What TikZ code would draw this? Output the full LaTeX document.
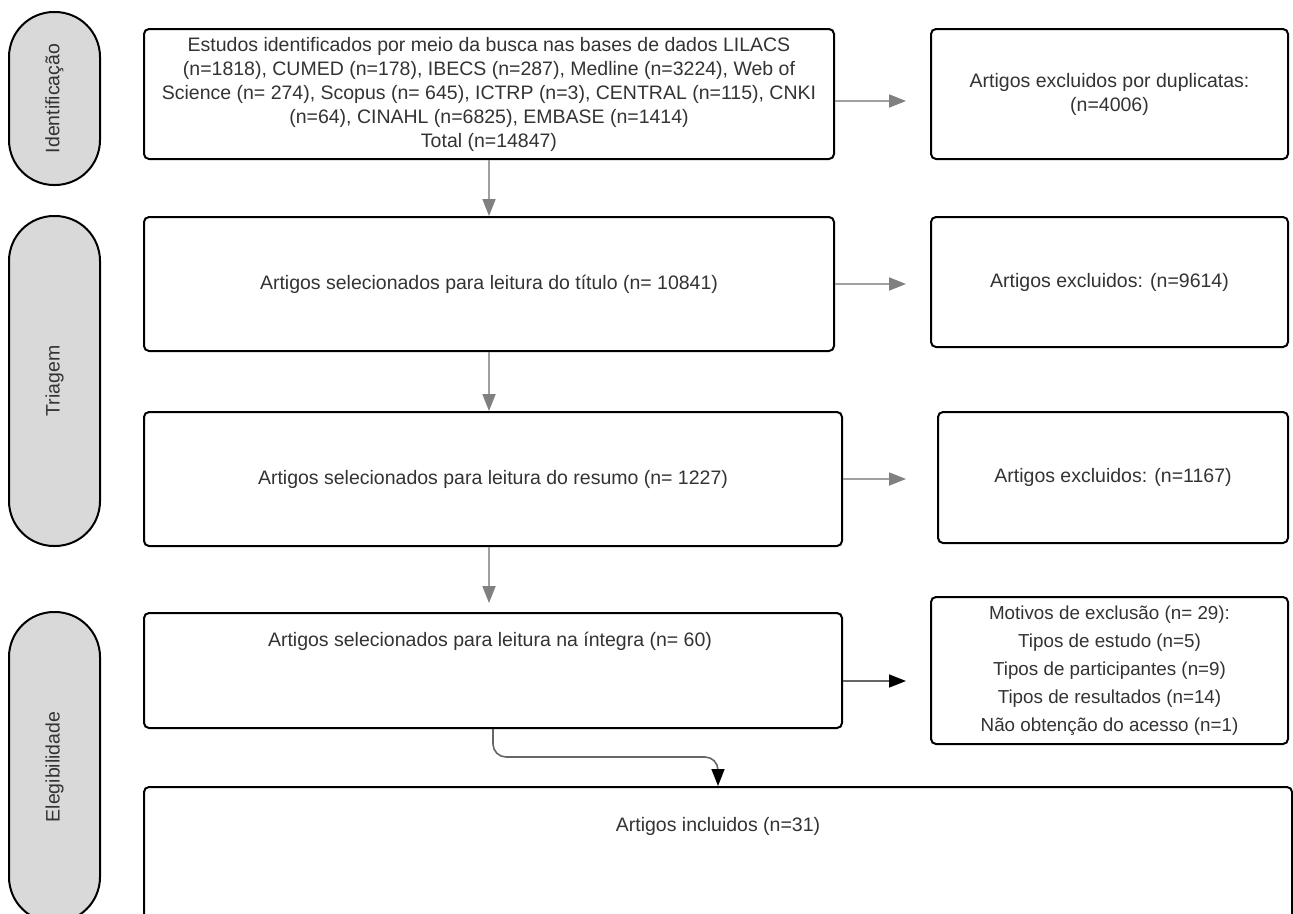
\documentclass[tikz,border=0pt]{standalone}
\usepackage{fontspec}
\setmainfont{Liberation Sans}
\usetikzlibrary{arrows.meta}
\definecolor{fasecor}{HTML}{D9D9D9}
\definecolor{texto}{HTML}{333333}
\definecolor{setacor}{HTML}{A0A0A0}
\definecolor{pontacor}{HTML}{808080}
\definecolor{linhacor}{HTML}{666666}
\begin{document}
\begin{tikzpicture}[x=1pt,y=-1pt,
    font=\fontsize{19.5}{24}\selectfont,
    caixa/.style={draw=black,line width=2pt,rounded corners=5pt,fill=white,text=texto,align=center,inner sep=0pt},
    fase/.style={draw=black,line width=2pt,fill=fasecor,rounded corners=45pt,rotate=90,minimum height=91pt,text=texto,inner sep=0pt},
    seta/.style={draw=setacor,line width=1.8pt,-{Triangle[length=17pt,width=13pt,color=pontacor]}},
    setapreta/.style={draw=linhacor,line width=1.6pt,-{Triangle[length=17pt,width=13pt,color=black]}}]
    \useasboundingbox (0,0) rectangle (1293,913);
    \clip (0,0) rectangle (1293,913);
    % fases
    \node[fase, minimum width=173pt] (ident) at (54.5,98.5) {Identificação};
    \node[fase, minimum width=330pt] (triag) at (54.5,381) {Triagem};
    \node[fase, minimum width=310pt] (eleg) at (54.5,767) {Elegibilidade};
    % caixas principais
    \node[caixa, minimum width=690pt, minimum height=130pt] (busca) at (489,94) {Estudos identificados por meio da busca nas bases de dados LILACS\\(n=1818), CUMED (n=178), IBECS (n=287), Medline (n=3224), Web of\\Science (n= 274), Scopus (n= 645), ICTRP (n=3), CENTRAL (n=115), CNKI\\(n=64), CINAHL (n=6825), EMBASE (n=1414)\\Total (n=14847)};
    \node[caixa, minimum width=690pt, minimum height=134pt] (titulo) at (489,284) {Artigos selecionados para leitura do título (n= 10841)};
    \node[caixa, minimum width=698pt, minimum height=134pt] (resumo) at (493,479) {Artigos selecionados para leitura do resumo (n= 1227)};
    \node[caixa, minimum width=698pt, minimum height=115pt] (integra) at (493,670.5) {};
    \node[text=texto] (integratxt) at (490,641) {Artigos selecionados para leitura na íntegra (n= 60)};
    \node[caixa, minimum width=1148pt, minimum height=200pt, anchor=north] (incl) at (718,786) {};
    \node[text=texto] (incltxt) at (718,826) {Artigos incluidos (n=31)};
    % exclusoes
    \node[caixa, minimum width=357pt, minimum height=130pt] (dupl) at (1109.5,94) {Artigos excluidos por duplicatas:\\(n=4006)};
    \node[caixa, minimum width=357pt, minimum height=130pt] (exctit) at (1109.5,282) {Artigos excluidos: (n=9614)};
    \node[caixa, minimum width=350pt, minimum height=131pt] (excres) at (1113,477.5) {Artigos excluidos: (n=1167)};
    \node[caixa, minimum width=357pt, minimum height=147pt, font=\fontsize{18.8}{28}\selectfont] (motivos) at (1109.5,670.5) {Motivos de exclusão (n= 29):\\Tipos de estudo (n=5)\\Tipos de participantes (n=9)\\Tipos de resultados (n=14)\\Não obtenção do acesso (n=1)};
    % setas
    \draw[seta, shorten >=24pt] ([yshift=-7pt]busca.east) -- ([yshift=-7pt]dupl.west);
    \draw[seta, shorten >=24pt] (titulo.east) -- (titulo.east -| exctit.west);
    \draw[seta, shorten >=31pt] (resumo.east) -- (resumo.east -| excres.west);
    \draw[setapreta, shorten >=24pt] ([yshift=-10.5pt]integra.east) -- ([yshift=-10.5pt]motivos.west);
    \draw[seta] (busca.south) -- (titulo.north);
    \draw[seta] (titulo.south) -- (titulo.south |- resumo.north);
    \draw[seta, shorten >=9pt] (titulo.south |- resumo.south) -- (titulo.south |- integra.north);
    \coordinate (dobra) at (0,757);
    \draw[setapreta, rounded corners=13pt] (integra.south) |- (dobra -| incl.north) -- (incl.north);
\end{tikzpicture}
\end{document}
